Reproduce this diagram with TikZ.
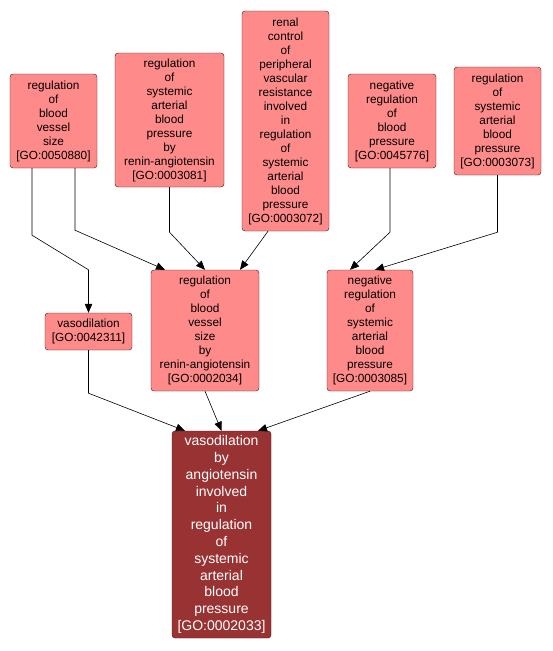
\documentclass[tikz,border=0pt]{standalone}
\usepackage{fontspec}
\setmainfont{Liberation Sans}
\usetikzlibrary{arrows.meta,calc}
\definecolor{termfill}{RGB}{255,138,138}
\definecolor{rootfill}{RGB}{153,51,51}
\definecolor{termline}{RGB}{60,20,20}

\begin{document}
\begin{tikzpicture}[x=1pt,y=-1pt,>={Triangle[length=9pt,width=7.5pt]},
    term/.style={draw=termline,fill=termfill,rounded corners=3pt,align=center,
      inner sep=0pt,font=\fontsize{11.8}{14}\selectfont},
    root/.style={term,fill=rootfill,text=white,font=\fontsize{14}{16.8}\selectfont},
    edge/.style={->,black,line width=0.6pt}]
  \useasboundingbox (0,0) rectangle (552,651);
  % top row
  \node[term,minimum width=87pt,minimum height=94pt] (bvs) at (53.5,121)
      {regulation\\of\\blood\\vessel\\size\\{[GO:0050880]}};
  \node[term,minimum width=109pt,minimum height=134pt] (rsabp) at (169.5,120)
      {regulation\\of\\systemic\\arterial\\blood\\pressure\\by\\renin-angiotensin\\{[GO:0003081]}};
  \node[term,minimum width=87pt,minimum height=220pt] (renal) at (285.5,121)
      {renal\\control\\of\\peripheral\\vascular\\resistance\\involved\\in\\regulation\\of\\systemic\\arterial\\blood\\pressure\\{[GO:0003072]}};
  \node[term,minimum width=88pt,minimum height=94pt] (negbp) at (392,121)
      {negative\\regulation\\of\\blood\\pressure\\{[GO:0045776]}};
  \node[term,minimum width=87pt,minimum height=108pt] (sabp) at (497.5,121)
      {regulation\\of\\systemic\\arterial\\blood\\pressure\\{[GO:0003073]}};
  % middle row
  \node[term,minimum width=87pt,minimum height=37pt] (vaso) at (88.5,331.5)
      {vasodilation\\{[GO:0042311]}};
  \node[term,minimum width=108pt,minimum height=121pt] (bvsra) at (205,330.5)
      {regulation\\of\\blood\\vessel\\size\\by\\renin-angiotensin\\{[GO:0002034]}};
  \node[term,minimum width=86pt,minimum height=121pt] (negsabp) at (370,330.5)
      {negative\\regulation\\of\\systemic\\arterial\\blood\\pressure\\{[GO:0003085]}};
  % the queried term
  \node[root,minimum width=99pt,minimum height=207pt] (vasoang) at (221.5,534.5)
      {vasodilation\\by\\angiotensin\\involved\\in\\regulation\\of\\systemic\\arterial\\blood\\pressure\\{[GO:0002033]}};
  % is_a links
  \draw[edge] ($(bvs.south)+(-21.5,0)$) -- ++(0,67) -- ($(vaso.north)+(0,-43)$) -- (vaso.north);
  \draw[edge] ($(bvs.south)+(21.5,0)$) -- ++(0,62) -- ($(bvsra.north)+(-40,0)$);
  \draw[edge] (rsabp.south) -- ++(0,45) -- (bvsra.north);
  \draw[edge] ($(renal.south)+(-17.5,0)$) -- ($(bvsra.north)+(35,0)$);
  \draw[edge] ($(negbp.south)+(-2,0)$) -- ++(0,64) -- ($(negsabp.north)+(-20,0)$);
  \draw[edge] (sabp.south) -- ++(0,57) -- ($(negsabp.north)+(5,0)$);
  \draw[edge] (vaso.south) -- ++(0,43) -- ($(vasoang.north)+(-36.5,0)$);
  \draw[edge] (bvsra.south) -- (vasoang.north);
  \draw[edge] (negsabp.south) -- ($(vasoang.north)+(36.5,0)$);
\end{tikzpicture}
\end{document}
